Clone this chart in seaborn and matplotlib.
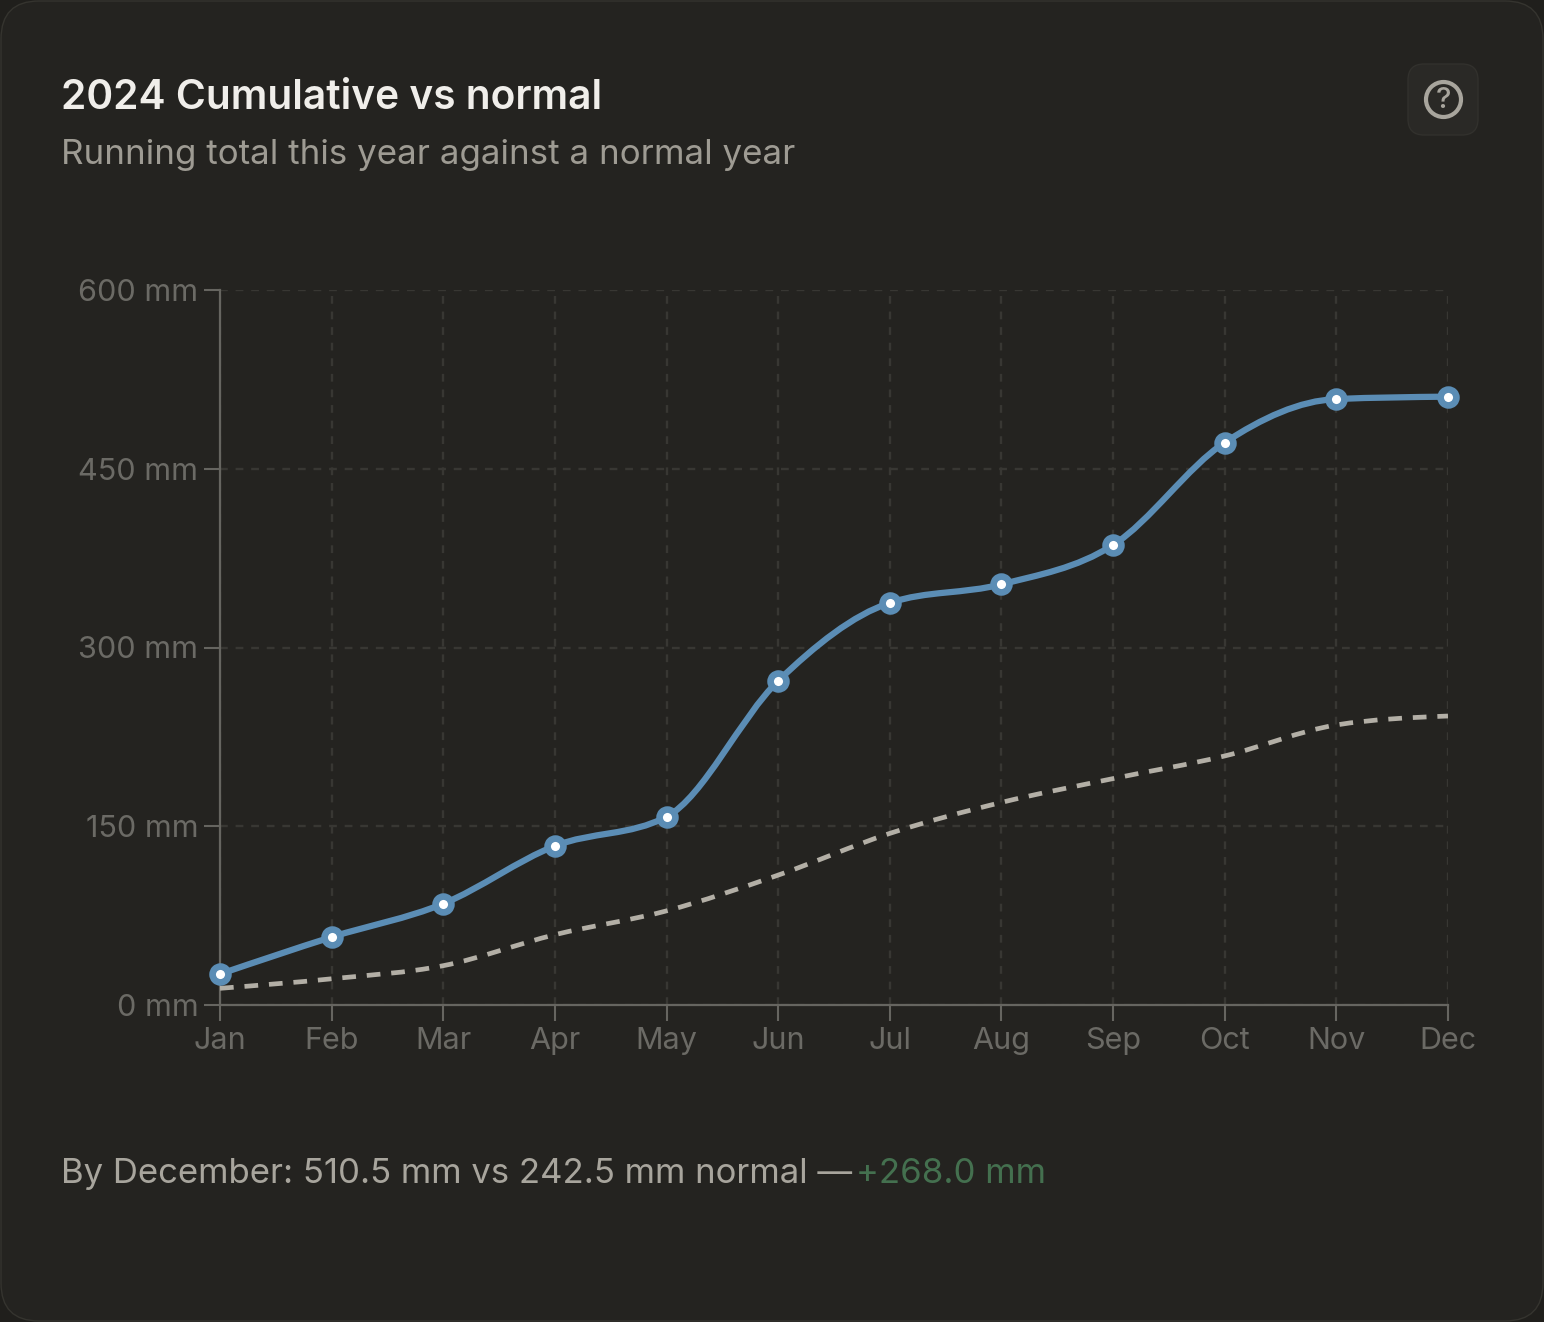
import numpy as np
import pandas as pd
import seaborn as sns
import matplotlib
matplotlib.use("Agg")
import matplotlib.pyplot as plt
from matplotlib.path import Path
from matplotlib.patches import PathPatch, FancyBboxPatch, Circle

months = ["Jan", "Feb", "Mar", "Apr", "May", "Jun", "Jul", "Aug", "Sep", "Oct", "Nov", "Dec"]
actual = [26, 57, 85, 133.5, 158, 272, 337.5, 353, 386, 472, 508.5, 510.5]
normal = [14, 22, 33, 59, 79, 109, 144, 170, 190, 209, 235, 242.5]
y_ticks = [0, 150, 300, 450, 600]
y_labels = ["0 mm", "150 mm", "300 mm", "450 mm", "600 mm"]

BG = "#242320"
W, H = 1544, 1322
sns.set_theme(style="dark")
plt.rcParams["font.family"] = ["Inter", "DejaVu Sans"]

fig = plt.figure(figsize=(W / 100, H / 100), dpi=100, facecolor="#201f1c")

# card layer in pixel coordinates
bgax = fig.add_axes([0, 0, 1, 1], zorder=0)
bgax.set_xlim(0, W)
bgax.set_ylim(H, 0)
bgax.axis("off")
bgax.add_patch(FancyBboxPatch((1, 1), W - 2, H - 2, boxstyle="round,pad=0,rounding_size=38",
                              fc=BG, ec="#35342f", lw=1))
bgax.add_patch(FancyBboxPatch((1408, 64), 70, 71, boxstyle="round,pad=0,rounding_size=16",
                              fc="#2a2926", ec="#32312d", lw=1))
bgax.add_patch(Circle((1443.5, 99.5), 17.5, fc="none", ec="#a8a59d", lw=3.0))
bgax.text(1443.5, 100, "?", color="#a8a59d", fontsize=21, fontweight="medium", ha="center", va="center")
bgax.text(61, 98, "2024 Cumulative vs normal", color="#f0eeea", fontsize=29.25, fontweight="semibold", va="center")
bgax.text(61, 155, "Running total this year against a normal year", color="#9e9b93", fontsize=25.15, va="center")
bgax.text(61, 1174, "By December: 510.5 mm vs 242.5 mm normal —", color="#a8a59d", fontsize=25, va="center")
bgax.text(856, 1174, "+268.0 mm", color="#44704f", fontsize=25, va="center")

# plot axes: x 220..1448, y 290..1005 px
ax = fig.add_axes([220 / W, 1 - 1005 / H, (1448 - 220) / W, (1005 - 290) / H], zorder=1)
ax.patch.set_alpha(0)
x = np.arange(len(months))
df = pd.DataFrame({"x": x, "month": months, "actual": actual, "normal": normal})


def monotone_path(xs, ys):
    """d3 curveMonotoneX as Bezier segments through the data points."""
    xs, ys = np.asarray(xs, float), np.asarray(ys, float)
    h = np.diff(xs)
    s = np.diff(ys) / h
    t = np.zeros_like(ys)
    for i in range(1, len(ys) - 1):
        p = (s[i - 1] * h[i] + s[i] * h[i - 1]) / (h[i - 1] + h[i])
        t[i] = (np.sign(s[i - 1]) + np.sign(s[i])) * min(abs(s[i - 1]), abs(s[i]), 0.5 * abs(p))
    t[0] = (3 * s[0] - t[1]) / 2
    t[-1] = (3 * s[-1] - t[-2]) / 2
    verts = [(xs[0], ys[0])]
    codes = [Path.MOVETO]
    for i in range(len(xs) - 1):
        d = h[i] / 3
        verts += [(xs[i] + d, ys[i] + d * t[i]), (xs[i + 1] - d, ys[i + 1] - d * t[i + 1]), (xs[i + 1], ys[i + 1])]
        codes += [Path.CURVE4] * 3
    return Path(verts, codes)


ax.add_patch(PathPatch(monotone_path(x, normal), fc="none", ec="#b3afa6", lw=3.4,
                       linestyle=(0, (2.9, 2.3)), capstyle="butt", zorder=3))
ax.add_patch(PathPatch(monotone_path(x, actual), fc="none", ec="#5b8db5", lw=4.5,
                       capstyle="round", zorder=4))
sns.scatterplot(data=df, x="x", y="actual", ax=ax, s=130, color="white", edgecolor="#5b8db5",
                linewidth=4.8, zorder=5, clip_on=False, legend=False)
sns.lineplot(data=df, x="x", y="normal", ax=ax, linewidth=0, legend=False, errorbar=None)

ax.set_xlim(0, 11)
ax.set_ylim(0, 600)
ax.set_xlabel("")
ax.set_ylabel("")
ax.set_xticks(x, months)
ax.set_yticks(y_ticks, y_labels)
ax.grid(True, color="#383733", lw=1.7, linestyle=(0, (3.3, 3.3)))
ax.set_axisbelow(True)
ax.tick_params(axis="both", length=11.5, width=1.5, color="#666560", labelcolor="#6b6a65",
               labelsize=22, pad=4, bottom=True, left=True)
for side in ["top", "right"]:
    ax.spines[side].set_visible(False)
for side in ["left", "bottom"]:
    ax.spines[side].set_visible(True)
    ax.spines[side].set_color("#666560")
    ax.spines[side].set_linewidth(1.6)

fig.savefig("out.png", dpi=100, facecolor=fig.get_facecolor())
